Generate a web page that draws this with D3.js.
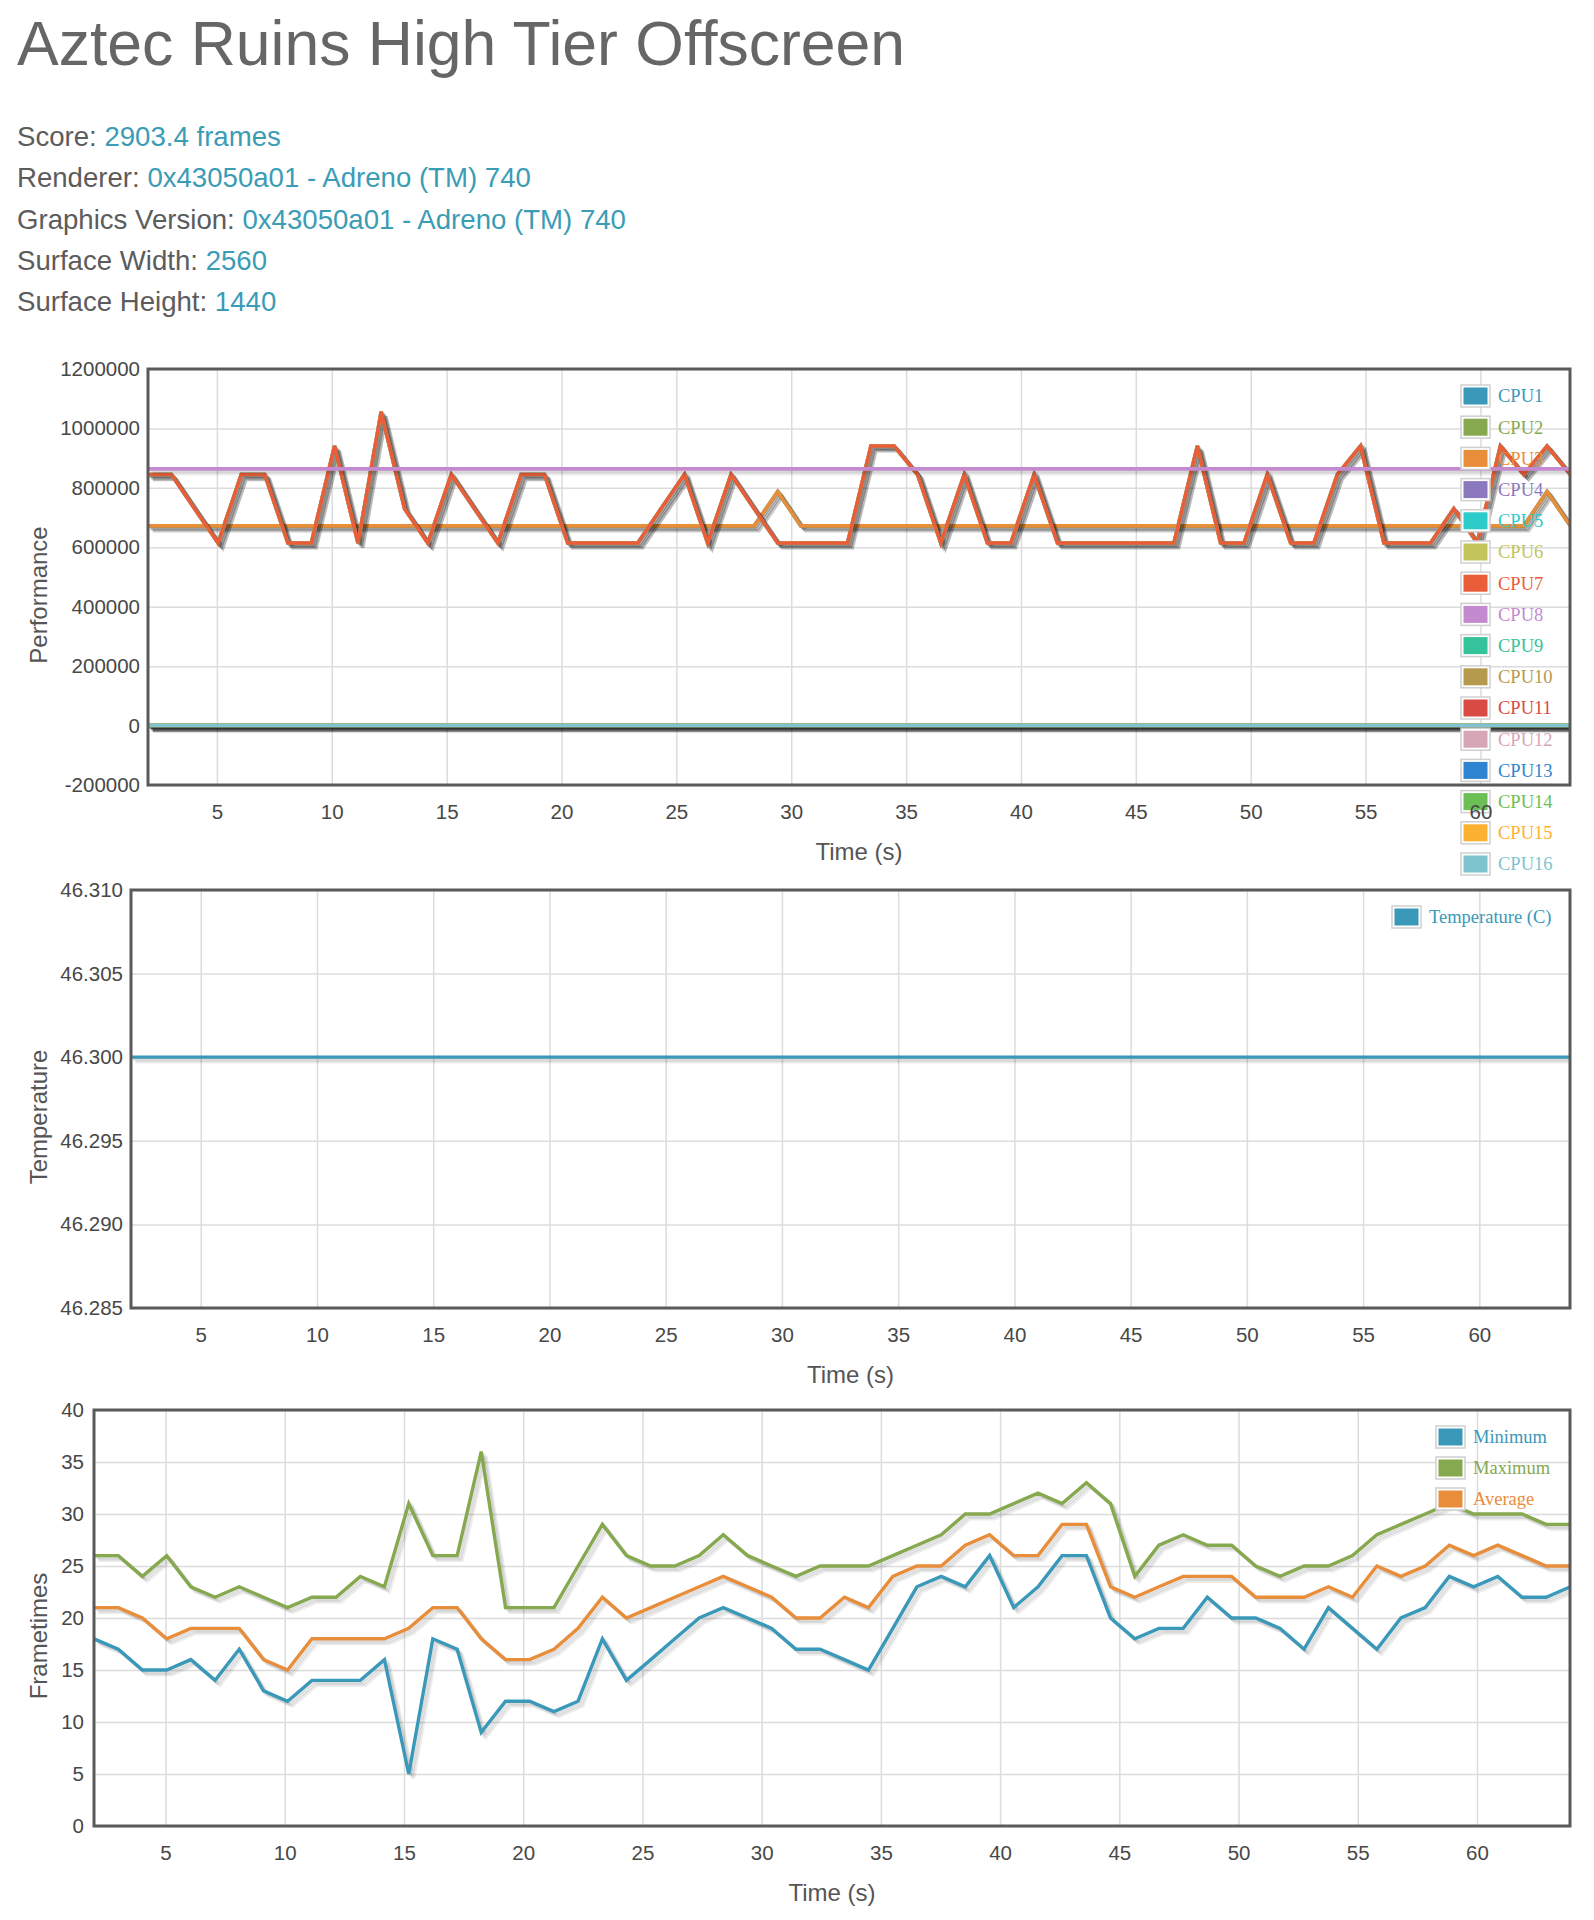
<!DOCTYPE html>
<html>
<head>
<meta charset="utf-8">
<script src="https://cdn.jsdelivr.net/npm/d3@7"></script>
<style>
  body { margin: 0; background: #fff; }
  svg text { font-family: "Liberation Sans", Arial, Helvetica, sans-serif; }
  svg .legend text { font-family: "Liberation Serif", "Times New Roman", serif; }
</style>
</head>
<body>
<svg id="page" width="1594" height="1920"></svg>
<script>
// ---- données ----
const title = "Aztec Ruins High Tier Offscreen";
const infoLabels = ["Score:", "Renderer:", "Graphics Version:", "Surface Width:", "Surface Height:"];
const infoValues = ["2903.4 frames", "0x43050a01 - Adreno (TM) 740", "0x43050a01 - Adreno (TM) 740", "2560", "1440"];

// temps des échantillons (s)
const times = [2.00, 3.02, 4.03, 5.05, 6.06, 7.08, 8.09, 9.11, 10.12, 11.14,
  12.15, 13.17, 14.18, 15.20, 16.21, 17.23, 18.24, 19.26, 20.27, 21.29,
  22.30, 23.32, 24.33, 25.35, 26.36, 27.38, 28.39, 29.41, 30.42, 31.44,
  32.45, 33.47, 34.48, 35.50, 36.51, 37.53, 38.54, 39.56, 40.57, 41.59,
  42.60, 43.62, 44.63, 45.65, 46.66, 47.68, 48.69, 49.71, 50.72, 51.74,
  52.75, 53.77, 54.78, 55.80, 56.81, 57.83, 58.84, 59.86, 60.87, 61.89,
  62.90, 63.92];
const xTicks = [5, 10, 15, 20, 25, 30, 35, 40, 45, 50, 55, 60];

// CPU (performance)
const cpuNames = ["CPU1", "CPU2", "CPU3", "CPU4", "CPU5", "CPU6", "CPU7", "CPU8",
  "CPU9", "CPU10", "CPU11", "CPU12", "CPU13", "CPU14", "CPU15", "CPU16"];
const cpuColors = ["#3a98b9", "#86a84f", "#e88d3a", "#8c78bc", "#2ecbcb", "#c3c55c", "#e95d38", "#c48ad0",
  "#34c39a", "#b59a4e", "#d84a43", "#d6a6b6", "#2e84d0", "#6bbf55", "#fdb130", "#7ec4cf"];
const cpuLittle = [672000, 672000, 672000, 672000, 672000, 672000, 672000, 672000, 672000, 672000,
  672000, 672000, 672000, 672000, 672000, 672000, 672000, 672000, 672000, 672000,
  672000, 672000, 672000, 672000, 672000, 672000, 672000, 787200, 672000, 672000,
  672000, 672000, 672000, 672000, 672000, 672000, 672000, 672000, 672000, 672000,
  672000, 672000, 672000, 672000, 672000, 672000, 672000, 672000, 672000, 672000,
  672000, 672000, 672000, 672000, 672000, 672000, 672000, 672000, 672000, 672000,
  787200, 672000];
const cpuMid = [844800, 844800, 729600, 614400, 844800, 844800, 614400, 614400, 940800, 614400,
  1056000, 729600, 614400, 844800, 729600, 614400, 844800, 844800, 614400, 614400,
  614400, 614400, 729600, 844800, 614400, 844800, 729600, 614400, 614400, 614400,
  614400, 940800, 940800, 844800, 614400, 844800, 614400, 614400, 844800, 614400,
  614400, 614400, 614400, 614400, 614400, 940800, 614400, 614400, 844800, 614400,
  614400, 844800, 940800, 614400, 614400, 614400, 729600, 614400, 940800, 844800,
  940800, 844800];
const cpuPrime = [864000, 864000, 864000, 864000, 864000, 864000, 864000, 864000, 864000, 864000,
  864000, 864000, 864000, 864000, 864000, 864000, 864000, 864000, 864000, 864000,
  864000, 864000, 864000, 864000, 864000, 864000, 864000, 864000, 864000, 864000,
  864000, 864000, 864000, 864000, 864000, 864000, 864000, 864000, 864000, 864000,
  864000, 864000, 864000, 864000, 864000, 864000, 864000, 864000, 864000, 864000,
  864000, 864000, 864000, 864000, 864000, 864000, 864000, 864000, 864000, 864000,
  864000, 864000];
const cpuOff = [0, 0, 0, 0, 0, 0, 0, 0, 0, 0, 0, 0, 0, 0, 0, 0, 0, 0, 0, 0,
  0, 0, 0, 0, 0, 0, 0, 0, 0, 0, 0, 0, 0, 0, 0, 0, 0, 0, 0, 0,
  0, 0, 0, 0, 0, 0, 0, 0, 0, 0, 0, 0, 0, 0, 0, 0, 0, 0, 0, 0, 0, 0];
const cpuValues = [cpuLittle, cpuLittle, cpuLittle, cpuMid, cpuMid, cpuMid, cpuMid, cpuPrime,
  cpuOff, cpuOff, cpuOff, cpuOff, cpuOff, cpuOff, cpuOff, cpuOff];
const perfTicks = [-200000, 0, 200000, 400000, 600000, 800000, 1000000, 1200000];

// température
const temperature = [46.3, 46.3, 46.3, 46.3, 46.3, 46.3, 46.3, 46.3, 46.3, 46.3,
  46.3, 46.3, 46.3, 46.3, 46.3, 46.3, 46.3, 46.3, 46.3, 46.3,
  46.3, 46.3, 46.3, 46.3, 46.3, 46.3, 46.3, 46.3, 46.3, 46.3,
  46.3, 46.3, 46.3, 46.3, 46.3, 46.3, 46.3, 46.3, 46.3, 46.3,
  46.3, 46.3, 46.3, 46.3, 46.3, 46.3, 46.3, 46.3, 46.3, 46.3,
  46.3, 46.3, 46.3, 46.3, 46.3, 46.3, 46.3, 46.3, 46.3, 46.3,
  46.3, 46.3];
const tempTicks = [46.285, 46.29, 46.295, 46.3, 46.305, 46.31];

// frametimes
const frameMin = [18, 17, 15, 15, 16, 14, 17, 13, 12, 14, 14, 14, 16, 5, 18, 17, 9, 12, 12, 11,
  12, 18, 14, 16, 18, 20, 21, 20, 19, 17, 17, 16, 15, 19, 23, 24, 23, 26, 21, 23,
  26, 26, 20, 18, 19, 19, 22, 20, 20, 19, 17, 21, 19, 17, 20, 21, 24, 23, 24, 22, 22, 23];
const frameMax = [26, 26, 24, 26, 23, 22, 23, 22, 21, 22, 22, 24, 23, 31, 26, 26, 36, 21, 21, 21,
  25, 29, 26, 25, 25, 26, 28, 26, 25, 24, 25, 25, 25, 26, 27, 28, 30, 30, 31, 32,
  31, 33, 31, 24, 27, 28, 27, 27, 25, 24, 25, 25, 26, 28, 29, 30, 31, 30, 30, 30, 29, 29];
const frameAvg = [21, 21, 20, 18, 19, 19, 19, 16, 15, 18, 18, 18, 18, 19, 21, 21, 18, 16, 16, 17,
  19, 22, 20, 21, 22, 23, 24, 23, 22, 20, 20, 22, 21, 24, 25, 25, 27, 28, 26, 26,
  29, 29, 23, 22, 23, 24, 24, 24, 22, 22, 22, 23, 22, 25, 24, 25, 27, 26, 27, 26, 25, 25];
const frameNames = ["Minimum", "Maximum", "Average"];
const frameColors = ["#3a98b9", "#86a84f", "#e88d3a"];
const frameTicks = [0, 5, 10, 15, 20, 25, 30, 35, 40];

// ---- dessin ----
const svg = d3.select("#page");

svg.append("text")
  .attr("x", 17).attr("y", 65)
  .attr("font-size", 62.5).attr("fill", "#666")
  .text(title);

infoLabels.forEach((l, i) => {
  const t = svg.append("text")
    .attr("x", 17).attr("y", 146 + i * 41.3)
    .attr("font-size", 27.6).attr("fill", "#5c5c5c");
  t.append("tspan").text(l + " ");
  t.append("tspan").attr("fill", "#3b9cb5").text(infoValues[i]);
});

function drawChart(c) {
  const x = d3.scaleLinear().domain([2, 63.9]).range([c.left, c.right]);
  const y = d3.scaleLinear().domain(c.yDomain).range([c.bottom, c.top]);
  const g = svg.append("g");

  g.append("clipPath").attr("id", "clip" + c.id)
    .append("rect")
    .attr("x", c.left).attr("y", c.top)
    .attr("width", c.right - c.left).attr("height", c.bottom - c.top);

  // grille
  g.append("g")
    .attr("transform", `translate(0,${c.bottom})`)
    .call(d3.axisBottom(x).tickValues(xTicks).tickSize(-(c.bottom - c.top)).tickFormat(""))
    .call(a => a.select(".domain").remove())
    .call(a => a.selectAll("line").attr("stroke", "#dcdcdc").attr("stroke-width", 1.5));
  g.append("g")
    .attr("transform", `translate(${c.left},0)`)
    .call(d3.axisLeft(y).tickValues(c.yTicks).tickSize(-(c.right - c.left)).tickFormat(""))
    .call(a => a.select(".domain").remove())
    .call(a => a.selectAll("line").attr("stroke", "#dcdcdc").attr("stroke-width", 1.5));

  // séries avec ombre façon jqPlot
  const line = d3.line().x((d, i) => x(times[i])).y(d => y(d));
  const lines = g.append("g").attr("clip-path", `url(#clip${c.id})`);
  c.series.forEach(s => {
    [1, 2, 3].forEach(j => {
      lines.append("path")
        .attr("d", line(s.values))
        .attr("transform", `translate(${j * 1.6},${j * 1.6})`)
        .attr("fill", "none")
        .attr("stroke", "#000").attr("stroke-opacity", 0.075)
        .attr("stroke-width", c.lineWidth);
    });
    lines.append("path")
      .attr("d", line(s.values))
      .attr("fill", "none")
      .attr("stroke", s.color)
      .attr("stroke-width", c.lineWidth);
  });

  // légende
  const leg = g.append("g").attr("class", "legend");
  c.legend.forEach((s, i) => {
    const cy = c.top + 27 + i * c.legendStep;
    leg.append("rect")
      .attr("x", c.legendX).attr("y", cy - 11)
      .attr("width", 29).attr("height", 22)
      .attr("fill", "#fff").attr("stroke", "#cfcfcf").attr("stroke-width", 1.5);
    leg.append("rect")
      .attr("x", c.legendX + 2.5).attr("y", cy - 8.5)
      .attr("width", 24).attr("height", 17)
      .attr("fill", s.color);
    leg.append("text")
      .attr("x", c.legendX + 37).attr("y", cy)
      .attr("dy", "0.35em")
      .attr("font-size", 18.5)
      .attr("fill", s.color)
      .text(s.name);
  });

  // cadre
  g.append("rect")
    .attr("x", c.left).attr("y", c.top)
    .attr("width", c.right - c.left).attr("height", c.bottom - c.top)
    .attr("fill", "none").attr("stroke", "#5a5a5a").attr("stroke-width", 3);

  // axes (étiquettes)
  g.append("g")
    .attr("transform", `translate(0,${c.bottom})`)
    .call(d3.axisBottom(x).tickValues(xTicks).tickSize(0).tickFormat(d => String(d)))
    .call(a => a.select(".domain").remove())
    .call(a => a.selectAll("text")
      .attr("y", 34).attr("dy", null)
      .attr("font-size", 20.5).attr("fill", "#484848")
      .style("font-family", '"Liberation Sans", Arial, sans-serif'));
  g.append("g")
    .attr("transform", `translate(${c.left},0)`)
    .call(d3.axisLeft(y).tickValues(c.yTicks).tickSize(0).tickPadding(c.tickPad).tickFormat(c.yFormat))
    .call(a => a.select(".domain").remove())
    .call(a => a.selectAll("text")
      .attr("font-size", 20.5).attr("fill", "#484848")
      .style("font-family", '"Liberation Sans", Arial, sans-serif'));

  g.append("text")
    .attr("x", (c.left + c.right) / 2).attr("y", c.bottom + 75)
    .attr("text-anchor", "middle")
    .attr("font-size", 24).attr("fill", "#555")
    .text("Time (s)");
  g.append("text")
    .attr("transform", `translate(39,${(c.top + c.bottom) / 2 + 18}) rotate(-90)`)
    .attr("text-anchor", "middle").attr("dy", "0.35em")
    .attr("font-size", 24).attr("fill", "#555")
    .text(c.yLabel);
}

const cpuSeries = cpuNames.map((n, i) => ({ name: n, color: cpuColors[i], values: cpuValues[i] }));
drawChart({
  id: 1, top: 369, bottom: 785, left: 148, right: 1570,
  yDomain: [-200000, 1200000], yTicks: perfTicks, yFormat: d => String(d),
  yLabel: "Performance", lineWidth: 3.6, tickPad: 8,
  series: cpuSeries, legend: cpuSeries, legendX: 1461, legendStep: 31.2
});

const tempSeries = [{ name: "Temperature (C)", color: "#3a98b9", values: temperature }];
drawChart({
  id: 2, top: 890, bottom: 1308, left: 131, right: 1570,
  yDomain: [46.285, 46.31], yTicks: tempTicks, yFormat: d3.format(".3f"),
  yLabel: "Temperature", lineWidth: 3.2, tickPad: 8,
  series: tempSeries, legend: tempSeries, legendX: 1392, legendStep: 31
});

const frameSeries = [frameMin, frameMax, frameAvg].map((v, i) => ({ name: frameNames[i], color: frameColors[i], values: v }));
drawChart({
  id: 3, top: 1410, bottom: 1826, left: 94, right: 1570,
  yDomain: [0, 40], yTicks: frameTicks, yFormat: d => String(d),
  yLabel: "Frametimes", lineWidth: 3.4, tickPad: 10,
  series: frameSeries, legend: frameSeries, legendX: 1436, legendStep: 31
});
</script>
</body>
</html>
